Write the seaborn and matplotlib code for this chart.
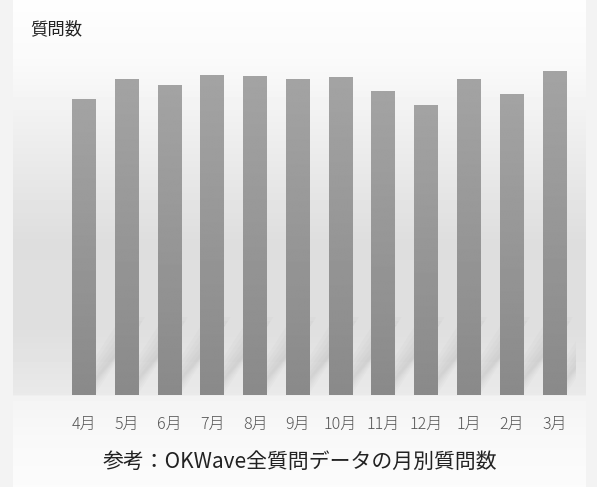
import numpy as np
import pandas as pd
import matplotlib
matplotlib.use("Agg")
import matplotlib.pyplot as plt
from matplotlib.patches import Polygon
import seaborn as sns

# monthly question counts (relative; no y scale shown)
months = ["4月", "5月", "6月", "7月", "8月", "9月", "10月", "11月", "12月", "1月", "2月", "3月"]
counts = [296, 316, 310, 320, 319, 316, 318, 304, 290, 316, 301, 324]

title_text = "質問数"
caption_text = "参考：OKWave全質問データの月別質問数"

sns.set_theme(style="white")
plt.rcParams["font.family"] = ["Noto Sans CJK JP", "DejaVu Sans"]

df = pd.DataFrame({"month": months, "count": counts})

W, H = 597, 487
fig = plt.figure(figsize=(W / 100, H / 100), dpi=100)

# background panel: vertical gradient, light side strips
bg = fig.add_axes([0, 0, 1, 1])
bg.set_axis_off()
rows = np.arange(H)
stops_y = [0, 60, 140, 240, 330, 394, 396, 440, 487]
stops_v = [0.995, 0.98, 0.93, 0.87, 0.875, 0.915, 0.955, 0.975, 0.985]
col = np.interp(rows, stops_y, stops_v)
img = np.tile(col[:, None], (1, W))
img[:, :13] = 0.95
img[:, 586:] = 0.95
bg.imshow(img, cmap="gray", vmin=0, vmax=1, aspect="auto",
          extent=[0, W, H, 0], interpolation="bilinear")
bg.set_xlim(0, W)
bg.set_ylim(H, 0)

# bar axes
ax = fig.add_axes([62.6 / W, 92 / H, 513.3 / W, 340 / H])
ax.patch.set_alpha(0)
sns.barplot(data=df, x="month", y="count", color="#999999", width=0.56,
            saturation=1, ax=ax)
ax.set_xlim(-0.5, 11.5)
ax.set_ylim(0, 340)

# vertical gradient inside every bar, plus a soft slanted shadow behind it
grad = np.linspace(0.54, 0.64, 256)[:, None]
for p in list(ax.patches):
    x0, y0 = p.get_x(), p.get_y()
    w, h = p.get_width(), p.get_height()
    p.set_facecolor("none")
    p.set_edgecolor("none")
    im = ax.imshow(grad, cmap="gray", vmin=0, vmax=1, aspect="auto",
                   extent=[x0, x0 + w, y0, y0 + h], origin="lower",
                   interpolation="bilinear", zorder=2)
    im.set_clip_path(p)
    for k in range(5):
        s = 0.06 * k
        shadow = Polygon([(x0 + s, 2), (x0 + w - s, 2),
                          (x0 + w + 1.15 - s, 78 - 4 * k), (x0 + 1.15 + s, 78 - 4 * k)],
                         closed=True, facecolor="#808080", edgecolor="none",
                         alpha=0.035, zorder=1)
        ax.add_patch(shadow)

ax.set_xlim(-0.5, 11.5)
ax.set_ylim(0, 340)
ax.set_xlabel("")
ax.set_ylabel("")
ax.set_yticks([])
ax.tick_params(axis="x", length=0, pad=15, labelsize=11.5, labelcolor="#555555")
for t in ax.get_xticklabels():
    t.set_fontweight("light")
sns.despine(ax=ax, left=True, bottom=True)

fig.text(30 / W, 1 - 29 / H, title_text, fontsize=12.5, color="#222222",
         va="center", ha="left")
fig.text(300 / W, 1 - 462 / H, caption_text, fontsize=15, color="#222222",
         va="center", ha="center")

fig.savefig("out.png", dpi=100)
